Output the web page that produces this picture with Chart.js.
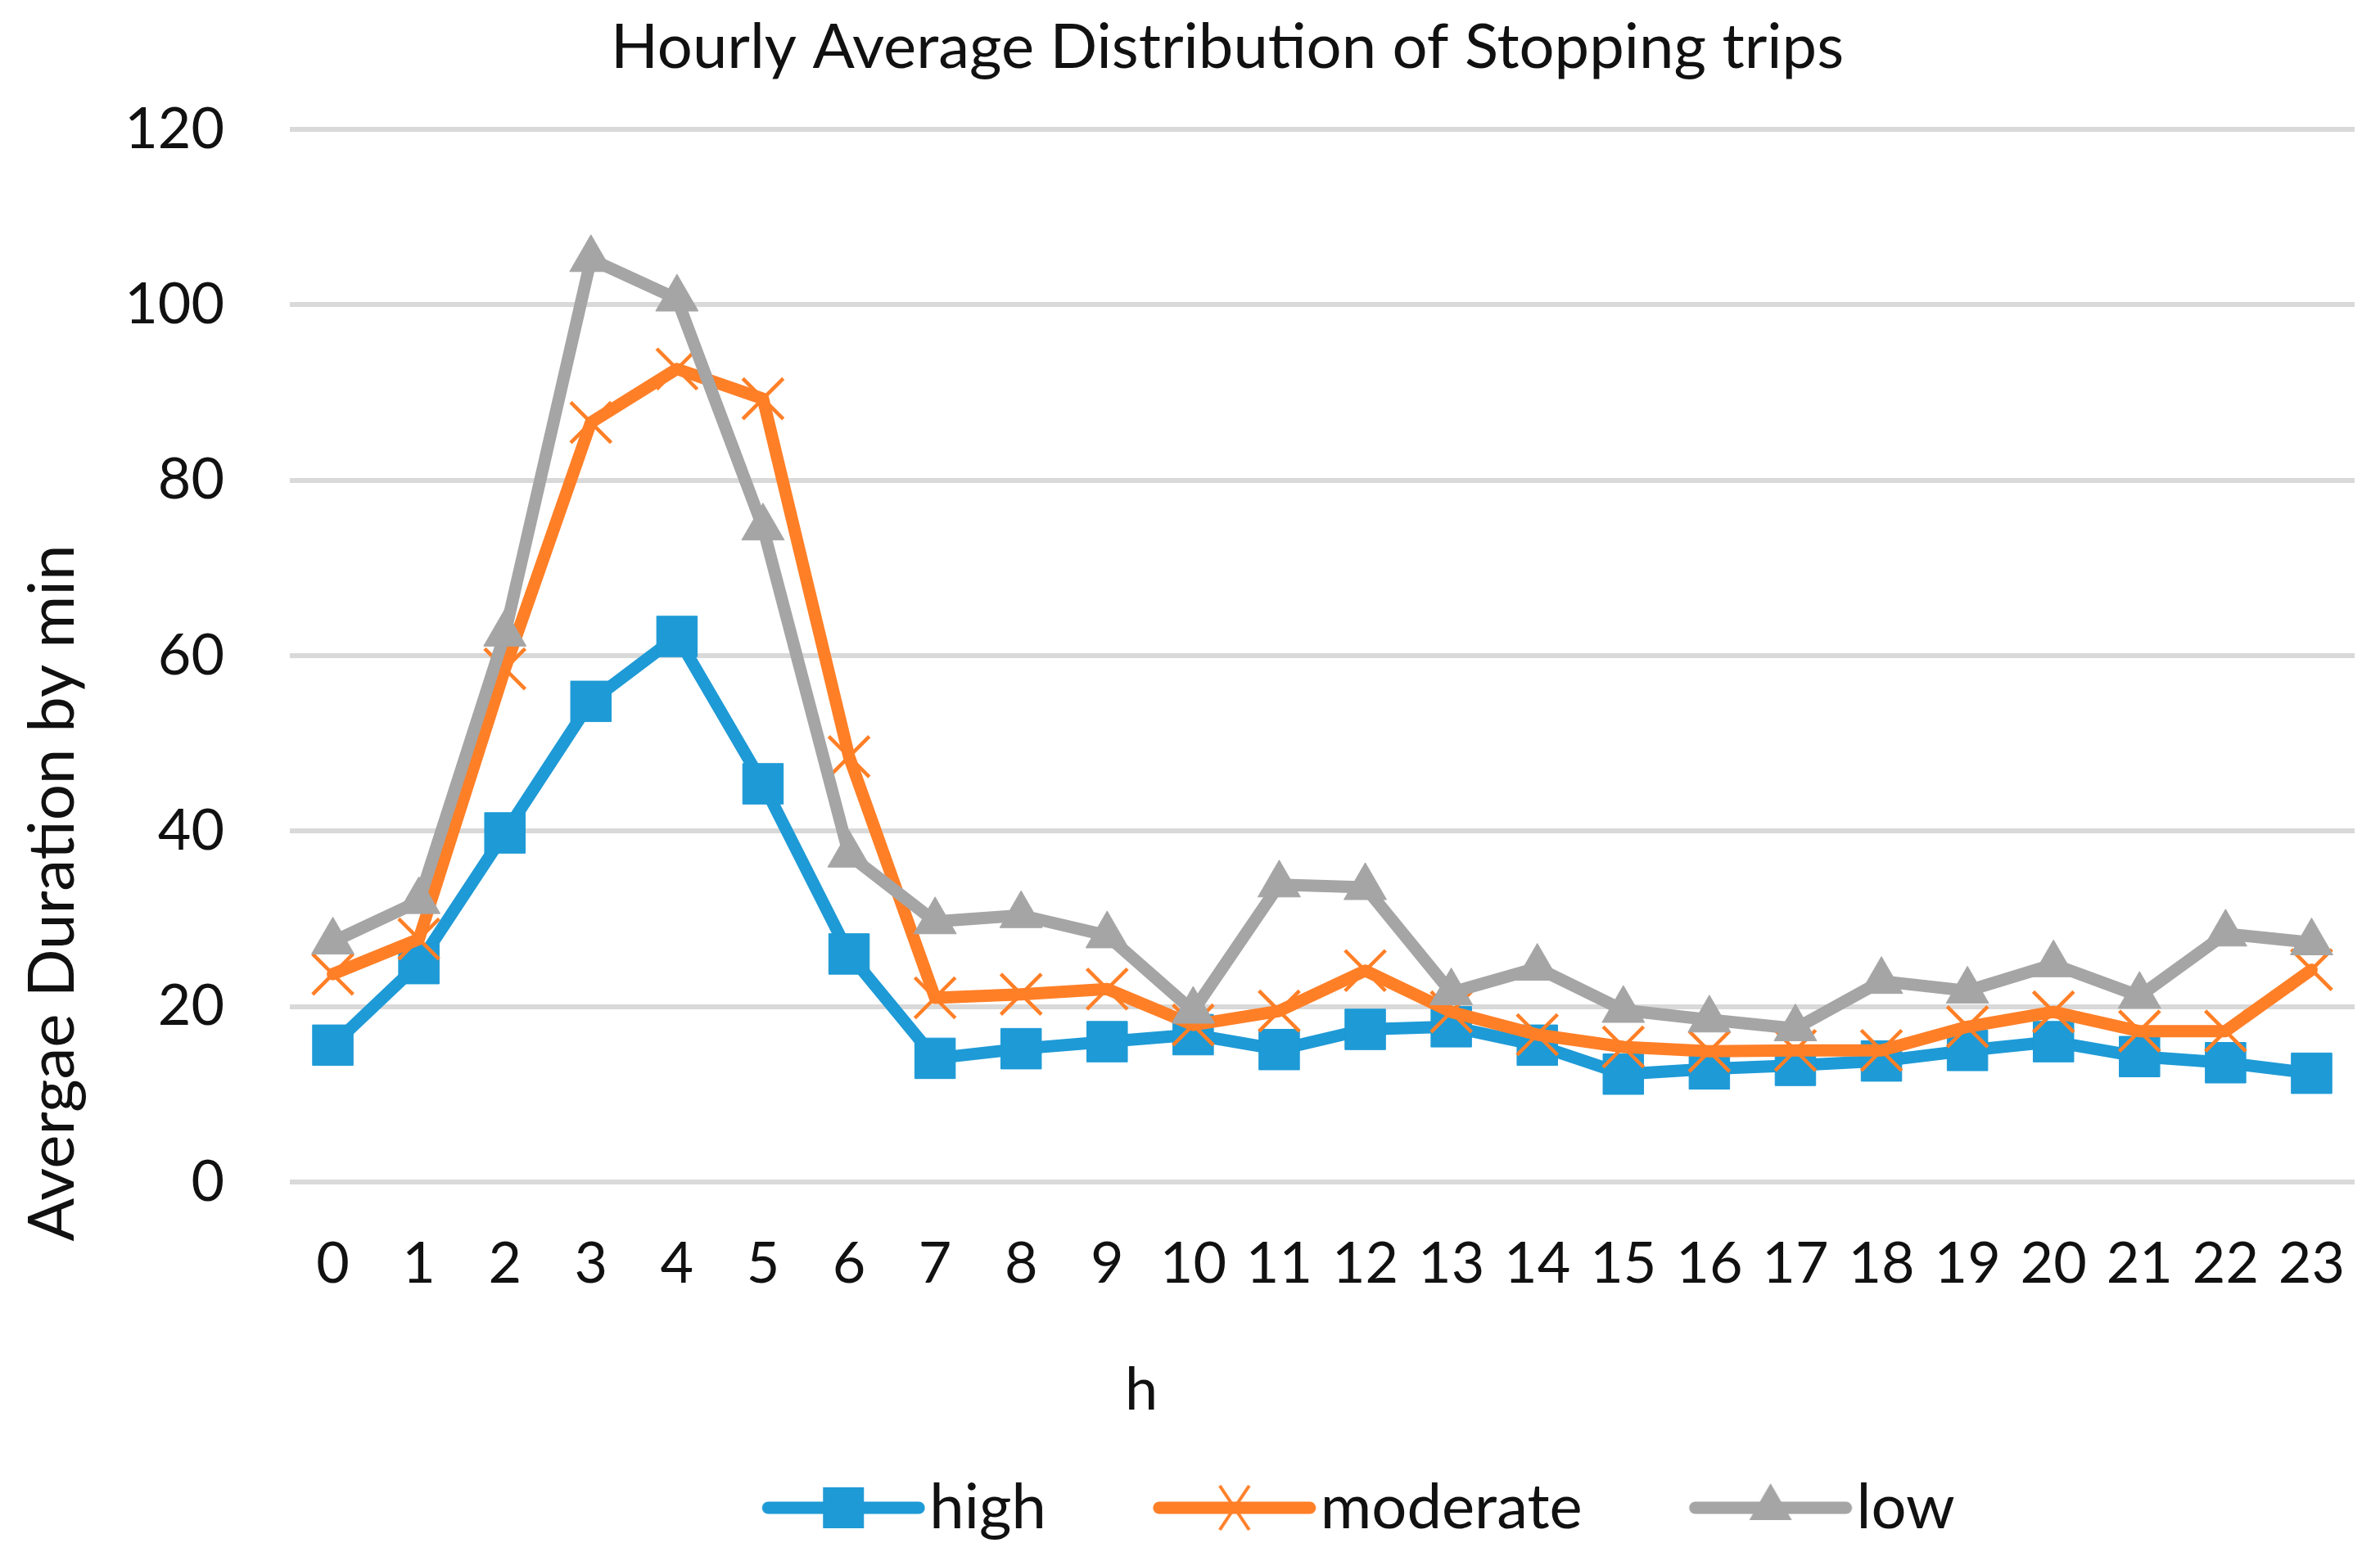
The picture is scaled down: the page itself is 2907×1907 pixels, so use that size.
<!DOCTYPE html>
<html>
<head>
<meta charset="utf-8">
<title>Hourly Average Distribution of Stopping trips</title>
<script src="https://cdn.jsdelivr.net/npm/chart.js@4.4.1/dist/chart.umd.min.js"></script>
<style>
  html, body { margin: 0; padding: 0; background: #fff; overflow: hidden; }
  canvas { display: block; }
</style>
</head>
<body>
<canvas id="myChart" width="2907" height="1907"></canvas>
<script>
// hours of the day
const hours = ['0','1','2','3','4','5','6','7','8','9','10','11','12','13','14','15','16','17','18','19','20','21','22','23'];

// average stop duration (min) per congestion level
const high     = [15.6, 24.9, 39.8, 54.8, 62.2, 45.4, 26.0, 14.1, 15.2, 16.0, 16.8, 15.1, 17.4, 17.7, 15.6, 12.3, 12.9, 13.3, 13.8, 15.0, 16.0, 14.3, 13.6, 12.4];
const moderate = [23.7, 27.7, 58.5, 86.6, 92.7, 89.3, 48.5, 21.0, 21.4, 22.0, 17.9, 19.5, 24.1, 19.4, 16.8, 15.4, 14.9, 15.0, 15.0, 17.7, 19.4, 17.2, 17.2, 24.2];
const low      = [27.4, 32.0, 62.5, 105.2, 100.7, 74.6, 37.3, 29.7, 30.4, 28.1, 19.5, 33.9, 33.6, 21.6, 24.4, 19.6, 18.5, 17.5, 22.9, 21.8, 24.8, 21.2, 28.3, 27.3];

const yTicks = [0, 20, 40, 60, 80, 100, 120];

const BLUE = '#1E9AD6';
const ORANGE = '#FF7F27';
const GREY = '#A5A5A5';
const TEXT = '#111111';

// legend swatch: line with the marker in the middle (excel style)
function swatch(color, style) {
  const w = 321, h = 80;
  const c = document.createElement('canvas');
  c.width = w; c.height = h;
  const g = c.getContext('2d');
  const cx = w - 100, cy = h / 2;
  g.strokeStyle = color;
  g.fillStyle = color;
  g.lineCap = 'round';
  g.lineWidth = 15;
  g.beginPath();
  g.moveTo(w - 192, cy);
  g.lineTo(w - 8, cy);
  g.stroke();
  if (style === 'rect') {
    g.fillRect(cx - 25, cy - 25, 50, 50);
  } else if (style === 'triangle') {
    const r = 30;
    g.beginPath();
    g.moveTo(cx, cy - r);
    g.lineTo(cx + r * 0.866, cy + r * 0.5);
    g.lineTo(cx - r * 0.866, cy + r * 0.5);
    g.closePath();
    g.fill();
  } else {
    g.lineWidth = 4;
    g.lineCap = 'butt';
    g.beginPath();
    g.moveTo(cx - 18, cy - 27); g.lineTo(cx + 18, cy + 27);
    g.moveTo(cx + 18, cy - 27); g.lineTo(cx - 18, cy + 27);
    g.stroke();
  }
  return c;
}

const swatches = [swatch(BLUE, 'rect'), swatch(ORANGE, 'cross'), swatch(GREY, 'triangle')];

const ctx = document.getElementById('myChart').getContext('2d');

const myChart = new Chart(ctx, {
  type: 'line',
  data: {
    labels: hours,
    datasets: [{
      label: 'high',
      data: high,
      borderColor: BLUE,
      backgroundColor: BLUE,
      borderWidth: 15,
      pointStyle: 'rect',
      pointRadius: 35,
      pointBorderWidth: 1,
      pointBackgroundColor: BLUE,
      pointBorderColor: BLUE,
      order: 3
    }, {
      label: 'moderate',
      data: moderate,
      borderColor: ORANGE,
      backgroundColor: ORANGE,
      borderWidth: 15,
      pointStyle: 'crossRot',
      pointRadius: 35,
      pointBorderWidth: 4.5,
      pointBorderColor: ORANGE,
      order: 2
    }, {
      label: 'low',
      data: low,
      borderColor: GREY,
      backgroundColor: GREY,
      borderWidth: 15,
      pointStyle: 'triangle',
      pointRadius: 30,
      pointBorderWidth: 1,
      pointBackgroundColor: GREY,
      pointBorderColor: GREY,
      order: 1
    }]
  },
  options: {
    responsive: false,
    devicePixelRatio: 1,
    animation: false,
    layout: {
      autoPadding: false,
      padding: { left: 122, right: 31, top: 0, bottom: 17 }
    },
    elements: {
      line: { tension: 0, borderCapStyle: 'round', borderJoinStyle: 'round' }
    },
    scales: {
      x: {
        offset: true,
        grid: { display: false },
        border: { display: false },
        ticks: {
          autoSkip: false,
          maxRotation: 0,
          padding: 0,
          color: TEXT,
          // tall line box pushes the hour labels down without padding the plot sideways
          font: { family: 'Lato', size: 70, lineHeight: '184px' }
        },
        afterFit: scale => { scale.height = 318; }
      },
      y: {
        min: 0,
        max: 120,
        afterBuildTicks: scale => { scale.ticks = yTicks.map(v => ({ value: v })); },
        grid: { color: '#D9D9D9', lineWidth: 6, drawTicks: false },
        border: { display: false },
        ticks: {
          padding: 80,
          color: TEXT,
          font: { family: 'Lato', size: 70 }
        },
        afterFit: scale => { scale.width = 232; }
      }
    },
    plugins: {
      title: {
        display: true,
        text: 'Hourly Average Distribution of Stopping trips',
        color: TEXT,
        font: { family: 'Lato', size: 76, weight: 'normal' },
        padding: { top: 13, bottom: 54 }
      },
      legend: {
        position: 'bottom',
        fullSize: false,
        labels: {
          usePointStyle: true,
          pointStyleWidth: 255,
          padding: 42,
          color: TEXT,
          font: { family: 'Lato', size: 76 },
          generateLabels: chart => chart.data.datasets.map((ds, i) => ({
            text: ds.label,
            pointStyle: swatches[i],
            fillStyle: ds.borderColor,
            strokeStyle: ds.borderColor,
            lineWidth: 0,
            hidden: false,
            fontColor: TEXT,
            datasetIndex: i
          }))
        }
      },
      tooltip: { enabled: false }
    }
  },
  plugins: [{
    // axis titles sit where excel put them, not centred on the plot
    id: 'axisTitles',
    afterDraw: chart => {
      const c = chart.ctx;
      c.save();
      c.fillStyle = TEXT;
      c.textAlign = 'center';
      c.textBaseline = 'alphabetic';
      c.font = '72px Lato';
      c.fillText('h', 1394, 1722);
      c.translate(90, 1091);
      c.rotate(-Math.PI / 2);
      c.font = '78px Lato';
      c.fillText('Avergae Duration by min', 0, 0);
      c.restore();
    }
  }]
});
</script>
</body>
</html>
